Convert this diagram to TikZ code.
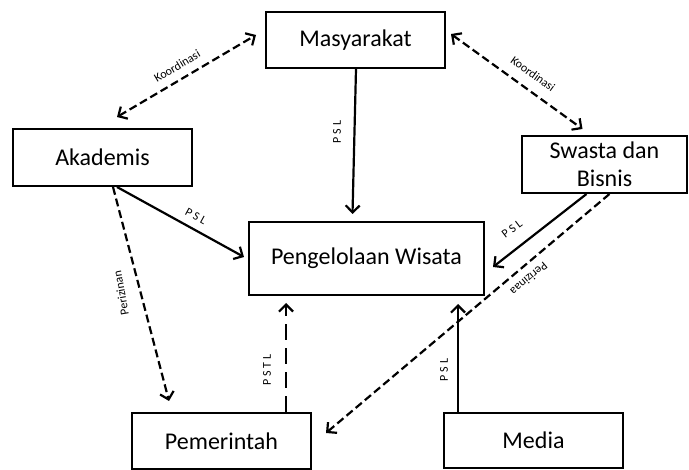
\documentclass[tikz,border=0pt]{standalone}
\usepackage{fontspec}
\setmainfont{Carlito}
\usetikzlibrary{arrows.meta}
\begin{document}
\begin{tikzpicture}[x=1pt,y=-1pt,
  box/.style={draw,line width=2pt,inner sep=0pt,font=\fontsize{24}{28}\selectfont,align=center},
  tip/.style={Straight Barb[length=7pt,width=14pt]},
  conn/.style={line width=2.2pt,-{Straight Barb[length=7pt,width=14pt]}},
  dconn/.style={conn,dash pattern=on 8pt off 4pt},
  biconn/.style={line width=2.2pt,{Straight Barb[length=7pt,width=14pt]}-{Straight Barb[length=7pt,width=14pt]},dash pattern=on 8pt off 4pt},
  ldconn/.style={conn,dash pattern=on 16pt off 8pt},
  lbl/.style={font=\fontsize{12}{14}\selectfont,inner sep=1pt}]
\useasboundingbox (0,0) rectangle (689,470);
\node[box,minimum width=179pt,minimum height=56pt] (masy) at (355.5,40) {Masyarakat};
\node[box,minimum width=179pt,minimum height=57pt] (akad) at (102.5,157.5) {Akademis};
\node[box,minimum width=165pt,minimum height=57pt] (swas) at (604.5,164.5) {Swasta dan\\Bisnis};
\node[box,minimum width=235pt,minimum height=73pt] (peng) at (366.5,258.5) {Pengelolaan Wisata};
\node[box,minimum width=179pt,minimum height=56pt] (pem) at (221.5,441) {Pemerintah};
\node[box,minimum width=179pt,minimum height=55pt] (med) at (533.5,440.5) {Media};

\draw[conn] ([xshift=0.5pt]masy.south) -- ([xshift=-14pt,yshift=7pt]peng.north);
\draw[biconn] ([xshift=14.5pt,yshift=11pt]akad.north) -- ([xshift=-9pt,yshift=5pt]masy.west);
\draw[biconn] ([xshift=5pt,yshift=6pt]masy.east) -- ([xshift=-22pt,yshift=6pt]swas.north);
\draw[conn] ([xshift=14.5pt]akad.south) -- ([xshift=-4pt,yshift=1.5pt]peng.west);
\draw[dconn] ([xshift=10.5pt]akad.south) -- ([xshift=-52.5pt,yshift=11pt]pem.north);
\draw[ldconn] ([xshift=64.5pt]pem.north) -- ([xshift=-80.5pt,yshift=-7pt]peng.south);
\draw[conn] ([xshift=-75.5pt]med.north) -- ([xshift=91.5pt,yshift=-8pt]peng.south);
\draw[conn] ([xshift=-18pt]swas.south) -- ([xshift=8pt,yshift=-8.5pt]peng.east);
\draw[dconn] ([xshift=5pt]swas.south) -- ([xshift=14pt,yshift=8pt]pem.east);

\node[lbl,rotate=90] (l1) at (337,132) {P S L};
\node[lbl,rotate=30.7] (l2) at (177,66) {Koordinasi};
\node[lbl,rotate=-35.8] (l3) at (533,74) {Koordinasi};
\node[lbl,rotate=-28.7] (l4) at (196,216) {P S L};
\node[lbl,rotate=100] (l5) at (121,293) {Perizinan};
\node[lbl,rotate=90] (l6) at (267,370) {P S T L};
\node[lbl,rotate=90] (l7) at (444,370) {P S L};
\node[lbl,rotate=37.2] (l8) at (512,229) {P S L};
\node[lbl,rotate=220] (l9) at (529,279) {Perizinaa};
\end{tikzpicture}
\end{document}
